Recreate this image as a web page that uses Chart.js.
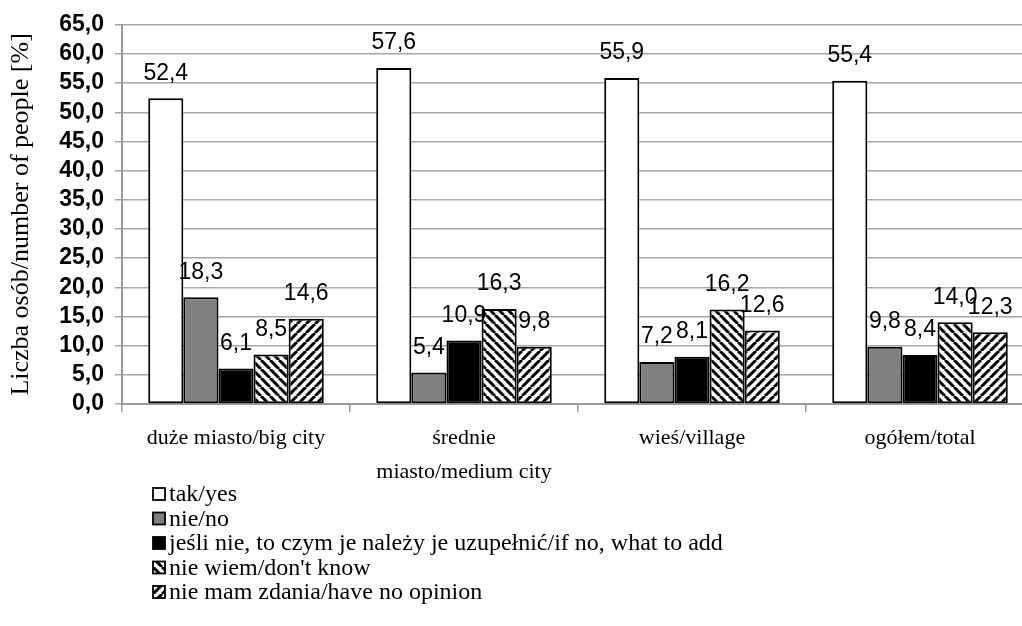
<!DOCTYPE html>
<html>
<head>
<meta charset="utf-8">
<script src="https://cdn.jsdelivr.net/npm/chart.js@4.4.0/dist/chart.umd.min.js"></script>
<style>
  html, body { margin: 0; padding: 0; background: #fff; overflow: hidden; }
  #wrap { width: 1022px; height: 626px; overflow: hidden; }
</style>
</head>
<body>
<div id="wrap"><canvas id="Chart" width="1034" height="626"></canvas></div>
<script>
'use strict';
// catégories et séries
const categories = ['duże miasto/big city', ['średnie', 'miasto/medium city'], 'wieś/village', 'ogółem/total'];
const seriesNames = ['tak/yes', 'nie/no', 'jeśli nie, to czym je należy je uzupełnić/if no, what to add', "nie wiem/don't know", 'nie mam zdania/have no opinion'];
const takYes = [52.4, 57.6, 55.9, 55.4];
const nieNo = [18.3, 5.4, 7.2, 9.8];
const jesliNie = [6.1, 10.9, 8.1, 8.4];
const nieWiem = [8.5, 16.3, 16.2, 14.0];
const nieMamZdania = [14.6, 9.8, 12.6, 12.3];
const yMin = 0, yMax = 65, yStep = 5;

const SERIF = "'Liberation Serif', serif";
const SANS = "'Liberation Sans', sans-serif";

// motif hachuré
function hachure(sens) {
    const s = 9;
    const c = document.createElement('canvas');
    c.width = s; c.height = s;
    const g = c.getContext('2d');
    g.fillStyle = '#fff';
    g.fillRect(0, 0, s, s);
    g.strokeStyle = '#000';
    g.lineWidth = 3;
    g.beginPath();
    for (let k = -s; k <= s; k += s) {
        if (sens === 'back') { g.moveTo(k, 0); g.lineTo(k + s, s); }
        else { g.moveTo(k, s); g.lineTo(k + s, 0); }
    }
    g.stroke();
    return document.getElementById('Chart').getContext('2d').createPattern(c, 'repeat');
}

const fmt = v => v.toFixed(1).replace('.', ',');
const fills = ['#ffffff', '#808080', '#000000', hachure('back'), hachure('fwd')];
const values = [takYes, nieNo, jesliNie, nieWiem, nieMamZdania];

// étiquettes au-dessus des barres
const etiquettes = {
    id: 'etiquettes',
    afterDatasetsDraw(chart) {
        const ctx = chart.ctx;
        ctx.save();
        ctx.font = '23px ' + SANS;
        ctx.fillStyle = '#000';
        ctx.textAlign = 'center';
        ctx.textBaseline = 'middle';
        chart.data.datasets.forEach((ds, i) => {
            chart.getDatasetMeta(i).data.forEach((bar, j) => {
                ctx.fillText(fmt(ds.data[j]), bar.x, bar.y - 25);
            });
        });
        ctx.restore();
    }
};

// légende verticale en bas
const legende = {
    id: 'legende',
    afterDraw(chart) {
        const ctx = chart.ctx;
        ctx.save();
        chart.data.datasets.forEach((ds, i) => {
            const y = 494 + i * 24.5;
            ctx.fillStyle = ds.backgroundColor;
            ctx.fillRect(153, y - 6, 12, 12);
            ctx.strokeStyle = '#000';
            ctx.lineWidth = 1.8;
            ctx.strokeRect(153, y - 6, 12, 12);
            ctx.font = '24px ' + SERIF;
            ctx.textAlign = 'left';
            ctx.textBaseline = 'middle';
            ctx.fillStyle = '#000';
            ctx.fillText(ds.label, 169, y + 1);
        });
        ctx.restore();
    }
};

new Chart(document.getElementById('Chart').getContext('2d'), {
    type: 'bar',
    data: {
        labels: categories,
        datasets: seriesNames.map((name, i) => ({
            label: name,
            data: values[i],
            backgroundColor: fills[i],
            borderColor: '#000',
            borderWidth: 2,
            borderSkipped: false
        }))
    },
    options: {
        responsive: false,
        animation: false,
        layout: { padding: { top: 22, bottom: 140, left: 0, right: 0 } },
        datasets: { bar: { categoryPercentage: 0.77, barPercentage: 1 } },
        plugins: { legend: { display: false }, tooltip: { enabled: false } },
        scales: {
            x: {
                grid: { drawOnChartArea: false, drawTicks: true, tickLength: 8, color: '#999', lineWidth: 1.5, offset: true },
                border: { color: '#999', width: 2 },
                ticks: {
                    color: '#000', maxRotation: 0, autoSkip: false, padding: 9,
                    font: { family: SERIF, size: 22, lineHeight: 1.55 }
                },
                afterFit(scale) { scale.height = 82; }
            },
            y: {
                min: yMin, max: yMax,
                grid: { color: '#a6a6a6', lineWidth: 1.5, tickLength: 7 },
                border: { color: '#999', width: 2 },
                ticks: {
                    stepSize: yStep, color: '#000', padding: 11, autoSkip: false,
                    font: { family: SANS, size: 23, weight: 'bold' },
                    callback: v => fmt(v)
                },
                title: {
                    display: true, text: 'Liczba osób/number of people [%]', color: '#000',
                    padding: { top: 6, bottom: 0 },
                    font: { family: SERIF, size: 26 }
                },
                afterFit(scale) { scale.width = 122; }
            }
        }
    },
    plugins: [etiquettes, legende]
});
</script>
</body>
</html>
